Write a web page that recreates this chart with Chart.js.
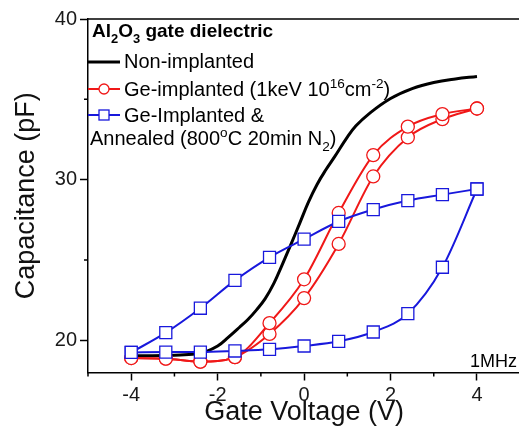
<!DOCTYPE html>
<html>
<head>
<meta charset="utf-8">
<script src="https://cdn.jsdelivr.net/npm/chart.js@4.4.0/dist/chart.umd.min.js"></script>
<style>
html, body { margin: 0; padding: 0; overflow: hidden; background: #fff; }
#wrap { width: 530px; height: 432px; }
</style>
</head>
<body>
<div id="wrap"><canvas id="cv" width="530" height="432"></canvas></div>
<script>
// gate voltage steps of the marked curves (V)
const voltage = [-4, -3.2, -2.4, -1.6, -0.8, 0, 0.8, 1.6, 2.4, 3.2, 4];
// Ge-implanted (1keV 1e16), both sweep branches (pF)
const geUpper = [18.9, 18.86, 18.68, 18.96, 21.07, 23.8, 27.93, 31.53, 33.3, 34.08, 34.43];
const geLower = [18.9, 18.86, 18.68, 18.96, 20.4, 22.63, 26.0, 30.2, 32.63, 33.77, 34.43];
// Ge-implanted & annealed, both branches (pF)
const annUpper = [19.25, 20.48, 22.0, 23.73, 25.17, 26.3, 27.4, 28.14, 28.7, 29.07, 29.42];
const annLower = [19.25, 19.27, 19.27, 19.34, 19.44, 19.65, 19.94, 20.52, 21.66, 24.55, 29.42];
// non-implanted
const refV = [-4, -3.5, -3, -2.5, -2.3, -2, -1.75, -1.5, -1.3, -1.1, -0.9, -0.7, -0.5, -0.3, -0.1, 0.1, 0.3, 0.5, 0.7, 1, 1.2, 1.5, 2, 2.5, 3, 3.5, 4];
const refC = [19.05, 19.05, 19.08, 19.15, 19.27, 19.65, 20.2, 20.8, 21.3, 21.9, 22.6, 23.55, 24.75, 26.0, 27.3, 28.6, 29.7, 30.6, 31.4, 32.65, 33.35, 34.1, 35.05, 35.67, 36.05, 36.27, 36.42];

// axes
const xTicks = [-5, -4, -3, -2, -1, 0, 1, 2, 3, 4, 5];
const xLabels = [-4, -2, 0, 2, 4];
const yTicks = [20, 25, 30, 35, 40];
const yLabels = [20, 30, 40];

const FONT = '"Liberation Sans", Arial, sans-serif';
const RED = '#f01818';
const BLUE = '#1818dc';

const pts = (xs, ys) => xs.map((x, i) => ({ x: x, y: ys[i] }));

function richText(ctx, x, y, parts, size, bold) {
    parts.forEach(p => {
        const txt = Array.isArray(p) ? p[0] : p;
        const kind = Array.isArray(p) ? p[1] : null;
        const s = kind ? size * 0.68 : size;
        ctx.font = (bold ? 'bold ' : '') + s + 'px ' + FONT;
        const dy = kind === 'sub' ? size * 0.3 : kind === 'sup' ? -size * 0.4 : 0;
        ctx.fillText(txt, x, y + dy);
        x += ctx.measureText(txt).width;
    });
}

// frame, minor ticks, legend block and frequency note
const decorations = {
    id: 'decorations',
    afterDraw(chart) {
        const ctx = chart.ctx;
        const a = chart.chartArea;
        const xs = chart.scales.x, ys = chart.scales.y;
        ctx.save();
        ctx.strokeStyle = '#000';
        ctx.lineWidth = 1.5;
        ctx.beginPath();
        ctx.moveTo(a.left, a.top);
        ctx.lineTo(a.right, a.top);
        ctx.lineTo(a.right, a.bottom);
        ctx.stroke();

        // minor ticks
        ctx.beginPath();
        xTicks.filter(v => !xLabels.includes(v)).forEach(v => {
            const px = xs.getPixelForValue(v);
            ctx.moveTo(px, a.bottom);
            ctx.lineTo(px, a.bottom + 4);
        });
        yTicks.filter(v => !yLabels.includes(v)).forEach(v => {
            const py = ys.getPixelForValue(v);
            ctx.moveTo(a.left, py);
            ctx.lineTo(a.left - 4, py);
        });
        ctx.stroke();

        // legend
        const lx = a.left + 4;
        ctx.fillStyle = '#000';
        ctx.textBaseline = 'alphabetic';
        ctx.textAlign = 'left';
        richText(ctx, lx, 37, ['Al', ['2', 'sub'], 'O', ['3', 'sub'], ' gate dielectric'], 19, true);

        const rows = [
            { y: 62, base: 68, color: '#000', width: 3, mark: null,
              text: ['Non-implanted'] },
            { y: 89, base: 96, color: RED, width: 2, mark: 'circle',
              text: ['Ge-implanted (1keV 10', ['16', 'sup'], 'cm', ['-2', 'sup'], ')'] },
            { y: 115, base: 122, color: BLUE, width: 2, mark: 'rect',
              text: ['Ge-Implanted &'] }
        ];
        rows.forEach(r => {
            ctx.strokeStyle = r.color;
            ctx.lineWidth = r.width;
            ctx.beginPath();
            ctx.moveTo(a.left, r.y);
            ctx.lineTo(a.left + 32, r.y);
            ctx.stroke();
            ctx.lineWidth = 1.3;
            ctx.fillStyle = '#fff';
            if (r.mark === 'circle') {
                ctx.beginPath();
                ctx.arc(a.left + 16, r.y, 5, 0, Math.PI * 2);
                ctx.fill();
                ctx.stroke();
            } else if (r.mark === 'rect') {
                ctx.fillRect(a.left + 11, r.y - 5, 10, 10);
                ctx.strokeRect(a.left + 11, r.y - 5, 10, 10);
            }
            ctx.fillStyle = '#000';
            richText(ctx, a.left + 36, r.base, r.text, 20, false);
        });
        richText(ctx, a.left + 2, 145, ['Annealed (800', ['o', 'sup'], 'C 20min N', ['2', 'sub'], ')'], 20, false);

        ctx.font = '18px ' + FONT;
        ctx.fillText('1MHz', 470, 367);
        ctx.restore();
    }
};

const ctx = document.getElementById('cv').getContext('2d');
new Chart(ctx, {
    type: 'line',
    data: {
        datasets: [
            {
                data: pts(voltage, annUpper),
                borderColor: BLUE, borderWidth: 2,
                pointStyle: 'rect', pointRadius: 8.5, pointBorderWidth: 1.3,
                pointBackgroundColor: '#fff', pointBorderColor: BLUE,
                cubicInterpolationMode: 'monotone'
            },
            {
                data: pts(voltage, annLower),
                borderColor: BLUE, borderWidth: 2,
                pointStyle: 'rect', pointRadius: 8.5, pointBorderWidth: 1.3,
                pointBackgroundColor: '#fff', pointBorderColor: BLUE,
                cubicInterpolationMode: 'monotone'
            },
            {
                data: pts(voltage, geUpper),
                borderColor: RED, borderWidth: 2,
                pointStyle: 'circle', pointRadius: 6.5, pointBorderWidth: 1.3,
                pointBackgroundColor: '#fff', pointBorderColor: RED,
                cubicInterpolationMode: 'monotone'
            },
            {
                data: pts(voltage, geLower),
                borderColor: RED, borderWidth: 2,
                pointStyle: 'circle', pointRadius: 6.5, pointBorderWidth: 1.3,
                pointBackgroundColor: '#fff', pointBorderColor: RED,
                cubicInterpolationMode: 'monotone'
            },
            {
                data: pts(refV, refC),
                borderColor: '#000', borderWidth: 3,
                pointRadius: 0,
                tension: 0.4
            }
        ]
    },
    options: {
        responsive: false,
        animation: false,
        devicePixelRatio: 1,
        layout: { padding: { top: 19, right: 7, left: 0, bottom: 0 } },
        plugins: {
            legend: { display: false },
            tooltip: { enabled: false }
        },
        scales: {
            x: {
                type: 'linear',
                min: -5,
                max: 5,
                afterBuildTicks: s => { s.ticks = xTicks.map(v => ({ value: v })); },
                afterFit: s => { s.height = 59.5; },
                ticks: {
                    callback: v => xLabels.includes(v) ? String(v) : '',
                    font: { size: 20, family: FONT },
                    color: '#1a1a1a',
                    padding: 3,
                    maxRotation: 0,
                    autoSkip: false
                },
                grid: {
                    drawOnChartArea: false,
                    tickLength: 8,
                    tickWidth: 1.5,
                    tickColor: c => xLabels.includes(c.tick.value) ? '#000' : 'rgba(0,0,0,0)'
                },
                border: { color: '#000', width: 1.5 },
                title: {
                    display: true,
                    text: 'Gate Voltage (V)',
                    font: { size: 27, family: FONT },
                    color: '#111',
                    padding: { top: 0, bottom: 3 }
                }
            },
            y: {
                min: 18,
                max: 40,
                afterBuildTicks: s => { s.ticks = yTicks.map(v => ({ value: v })); },
                afterFit: s => { s.width = 88; },
                ticks: {
                    callback: v => yLabels.includes(v) ? String(v) : '',
                    font: { size: 20, family: FONT },
                    color: '#1a1a1a',
                    padding: 3,
                    autoSkip: false
                },
                grid: {
                    drawOnChartArea: false,
                    tickLength: 8,
                    tickWidth: 1.5,
                    tickColor: c => yLabels.includes(c.tick.value) ? '#000' : 'rgba(0,0,0,0)'
                },
                border: { color: '#000', width: 1.5 },
                title: {
                    display: true,
                    text: 'Capacitance (pF)',
                    font: { size: 27, family: FONT },
                    color: '#111',
                    padding: { top: 10, bottom: 0 }
                }
            }
        }
    },
    plugins: [decorations]
});
</script>
</body>
</html>
